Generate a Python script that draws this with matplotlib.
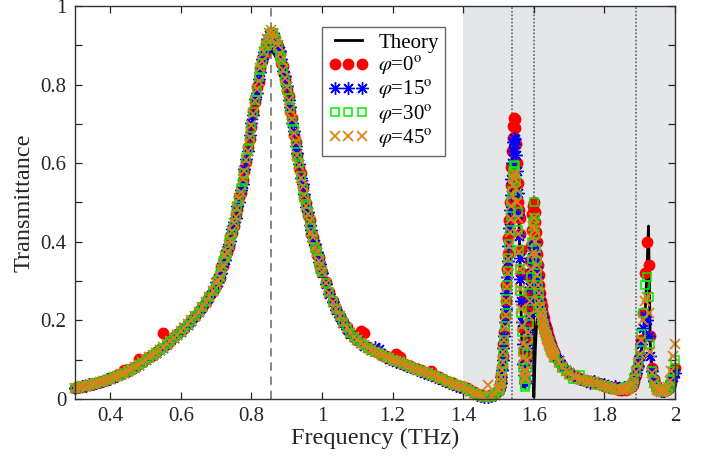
import numpy as np
import matplotlib
matplotlib.use('Agg')
import matplotlib.pyplot as plt
from matplotlib.ticker import MultipleLocator, FormatStrFormatter

plt.rcParams['font.family'] = 'Liberation Serif'
plt.rcParams['mathtext.fontset'] = 'stix'

# frequency grid (THz): finer sampling on the steep parts of the spectrum
freq = np.round(np.concatenate([
    np.arange(0.30, 0.695, 0.01),     # 40 pts
    np.arange(0.700, 0.9975, 0.005),  # 60 pts
    np.arange(1.00, 1.495, 0.01),     # 50 pts
    np.arange(1.500, 1.659, 0.002),   # 80 pts
    np.arange(1.66, 1.855, 0.01),     # 20 pts
    np.arange(1.855, 2.0025, 0.005),  # 30 pts
]), 3)

theory = [
    0.026, 0.028, 0.030, 0.032, 0.034, 0.036, 0.038, 0.041, 0.044, 0.047,
    0.050, 0.053, 0.057, 0.061, 0.065, 0.069, 0.074, 0.079, 0.085, 0.091,
    0.098, 0.104, 0.110, 0.116, 0.123, 0.130, 0.138, 0.146, 0.154, 0.162,
    0.170, 0.179, 0.188, 0.198, 0.209, 0.220, 0.232, 0.245, 0.258, 0.273,
    0.290, 0.299, 0.309, 0.324, 0.340, 0.355, 0.370, 0.386, 0.403, 0.421,
    0.440, 0.460, 0.480, 0.502, 0.525, 0.550, 0.575, 0.601, 0.628, 0.657,
    0.686, 0.714, 0.742, 0.768, 0.792, 0.815, 0.835, 0.852, 0.866, 0.876,
    0.882, 0.885, 0.883, 0.877, 0.868, 0.856, 0.841, 0.823, 0.802, 0.780,
    0.756, 0.731, 0.705, 0.678, 0.652, 0.625, 0.599, 0.573, 0.548, 0.524,
    0.501, 0.479, 0.458, 0.438, 0.419, 0.401, 0.383, 0.366, 0.350, 0.335,
    0.320, 0.293, 0.268, 0.246, 0.226, 0.208, 0.192, 0.178, 0.165, 0.156,
    0.148, 0.141, 0.135, 0.129, 0.123, 0.118, 0.114, 0.110, 0.106, 0.102,
    0.098, 0.094, 0.091, 0.087, 0.084, 0.080, 0.077, 0.073, 0.070, 0.066,
    0.063, 0.059, 0.056, 0.052, 0.048, 0.044, 0.040, 0.037, 0.033, 0.030,
    0.028, 0.024, 0.019, 0.014, 0.010, 0.006, 0.004, 0.005, 0.008, 0.014,
    0.020, 0.023, 0.028, 0.035, 0.045, 0.065, 0.090, 0.122, 0.160, 0.200,
    0.240, 0.280, 0.320, 0.365, 0.410, 0.455, 0.500, 0.540, 0.580, 0.615,
    0.650, 0.680, 0.705, 0.718, 0.712, 0.685, 0.640, 0.585, 0.520, 0.450,
    0.380, 0.300, 0.220, 0.150, 0.090, 0.050, 0.030, 0.035, 0.060, 0.095,
    0.140, 0.180, 0.220, 0.265, 0.310, 0.355, 0.400, 0.450, 0.490, 0.505,
    0.005, 0.060, 0.120, 0.160, 0.190, 0.205, 0.210, 0.212, 0.210, 0.208,
    0.205, 0.200, 0.195, 0.190, 0.185, 0.178, 0.172, 0.166, 0.160, 0.155,
    0.150, 0.145, 0.140, 0.135, 0.130, 0.125, 0.120, 0.116, 0.112, 0.108,
    0.104, 0.090, 0.079, 0.070, 0.062, 0.056, 0.051, 0.047, 0.044, 0.041,
    0.039, 0.037, 0.035, 0.033, 0.031, 0.029, 0.027, 0.025, 0.024, 0.023,
    0.022, 0.022, 0.022, 0.023, 0.025, 0.028, 0.034, 0.045, 0.065, 0.095,
    0.125, 0.150, 0.210, 0.310, 0.440, 0.140, 0.075, 0.050, 0.038, 0.030,
    0.025, 0.022, 0.020, 0.019, 0.020, 0.022, 0.026, 0.034, 0.050, 0.080,
]

t_phi0 = [
    0.027, 0.031, 0.031, 0.035, 0.036, 0.039, 0.041, 0.043, 0.047, 0.049,
    0.053, 0.055, 0.060, 0.063, 0.075, 0.070, 0.077, 0.082, 0.102, 0.094,
    0.101, 0.107, 0.111, 0.119, 0.126, 0.168, 0.141, 0.147, 0.157, 0.165,
    0.173, 0.180, 0.191, 0.201, 0.210, 0.223, 0.235, 0.246, 0.262, 0.274,
    0.288, 0.307, 0.309, 0.335, 0.339, 0.363, 0.375, 0.386, 0.415, 0.423,
    0.441, 0.471, 0.483, 0.515, 0.524, 0.558, 0.580, 0.602, 0.642, 0.662,
    0.692, 0.733, 0.755, 0.793, 0.807, 0.841, 0.861, 0.875, 0.904, 0.907,
    0.918, 0.930, 0.921, 0.922, 0.902, 0.898, 0.880, 0.856, 0.847, 0.813,
    0.787, 0.770, 0.734, 0.716, 0.673, 0.653, 0.622, 0.589, 0.574, 0.539,
    0.513, 0.499, 0.468, 0.456, 0.421, 0.411, 0.389, 0.366, 0.361, 0.335,
    0.324, 0.297, 0.272, 0.250, 0.230, 0.212, 0.196, 0.182, 0.168, 0.159,
    0.151, 0.172, 0.168, 0.132, 0.126, 0.121, 0.117, 0.113, 0.109, 0.105,
    0.102, 0.115, 0.108, 0.090, 0.087, 0.083, 0.080, 0.076, 0.073, 0.069,
    0.066, 0.072, 0.059, 0.055, 0.051, 0.047, 0.043, 0.040, 0.036, 0.033,
    0.030, 0.027, 0.022, 0.017, 0.013, 0.009, 0.007, 0.007, 0.009, 0.014,
    0.025, 0.028, 0.035, 0.045, 0.060, 0.082, 0.110, 0.140, 0.170, 0.210,
    0.250, 0.290, 0.330, 0.370, 0.410, 0.455, 0.500, 0.545, 0.590, 0.630,
    0.665, 0.695, 0.715, 0.712, 0.690, 0.650, 0.600, 0.550, 0.500, 0.480,
    0.460, 0.420, 0.380, 0.320, 0.250, 0.180, 0.120, 0.095, 0.090, 0.110,
    0.150, 0.190, 0.230, 0.270, 0.310, 0.350, 0.390, 0.430, 0.470, 0.490,
    0.500, 0.475, 0.450, 0.425, 0.400, 0.370, 0.340, 0.315, 0.290, 0.270,
    0.250, 0.237, 0.225, 0.215, 0.205, 0.197, 0.190, 0.182, 0.175, 0.168,
    0.162, 0.156, 0.150, 0.145, 0.140, 0.135, 0.130, 0.125, 0.120, 0.115,
    0.108, 0.095, 0.083, 0.073, 0.066, 0.060, 0.058, 0.052, 0.049, 0.047,
    0.045, 0.043, 0.040, 0.037, 0.034, 0.031, 0.028, 0.030, 0.024, 0.023,
    0.025, 0.024, 0.025, 0.027, 0.030, 0.035, 0.045, 0.060, 0.085, 0.110,
    0.150, 0.220, 0.320, 0.400, 0.340, 0.160, 0.080, 0.050, 0.035, 0.028,
    0.024, 0.022, 0.020, 0.020, 0.022, 0.025, 0.030, 0.040, 0.060, 0.080,
]

t_phi15 = [
    0.029, 0.030, 0.033, 0.034, 0.037, 0.038, 0.041, 0.044, 0.046, 0.050,
    0.052, 0.056, 0.059, 0.064, 0.067, 0.072, 0.076, 0.082, 0.086, 0.093,
    0.099, 0.106, 0.113, 0.118, 0.124, 0.131, 0.139, 0.149, 0.155, 0.163,
    0.171, 0.182, 0.189, 0.199, 0.212, 0.221, 0.233, 0.248, 0.259, 0.276,
    0.297, 0.297, 0.318, 0.321, 0.347, 0.353, 0.380, 0.394, 0.403, 0.432,
    0.450, 0.461, 0.492, 0.501, 0.532, 0.548, 0.585, 0.610, 0.630, 0.671,
    0.701, 0.723, 0.764, 0.779, 0.815, 0.831, 0.866, 0.883, 0.892, 0.916,
    0.927, 0.924, 0.932, 0.912, 0.910, 0.888, 0.885, 0.864, 0.835, 0.822,
    0.796, 0.760, 0.743, 0.702, 0.681, 0.643, 0.627, 0.597, 0.562, 0.548,
    0.522, 0.489, 0.477, 0.442, 0.429, 0.401, 0.394, 0.374, 0.349, 0.344,
    0.320, 0.293, 0.268, 0.246, 0.226, 0.208, 0.193, 0.178, 0.166, 0.157,
    0.149, 0.142, 0.136, 0.130, 0.124, 0.132, 0.126, 0.111, 0.107, 0.103,
    0.099, 0.095, 0.092, 0.088, 0.085, 0.081, 0.078, 0.074, 0.071, 0.067,
    0.064, 0.060, 0.057, 0.053, 0.049, 0.045, 0.041, 0.038, 0.034, 0.031,
    0.029, 0.025, 0.020, 0.015, 0.011, 0.007, 0.005, 0.005, 0.007, 0.011,
    0.022, 0.025, 0.030, 0.040, 0.055, 0.075, 0.100, 0.130, 0.160, 0.195,
    0.230, 0.270, 0.310, 0.350, 0.390, 0.435, 0.480, 0.520, 0.560, 0.600,
    0.630, 0.655, 0.665, 0.662, 0.650, 0.620, 0.580, 0.525, 0.470, 0.415,
    0.360, 0.305, 0.250, 0.195, 0.140, 0.090, 0.060, 0.045, 0.040, 0.060,
    0.090, 0.130, 0.170, 0.210, 0.250, 0.285, 0.320, 0.350, 0.380, 0.395,
    0.400, 0.380, 0.360, 0.335, 0.310, 0.290, 0.270, 0.255, 0.240, 0.230,
    0.220, 0.212, 0.205, 0.197, 0.190, 0.183, 0.176, 0.170, 0.164, 0.158,
    0.152, 0.147, 0.142, 0.137, 0.133, 0.128, 0.124, 0.120, 0.116, 0.112,
    0.112, 0.098, 0.085, 0.075, 0.068, 0.062, 0.056, 0.050, 0.052, 0.047,
    0.040, 0.046, 0.041, 0.037, 0.038, 0.033, 0.030, 0.034, 0.027, 0.025,
    0.030, 0.028, 0.030, 0.032, 0.035, 0.040, 0.050, 0.065, 0.085, 0.110,
    0.140, 0.180, 0.210, 0.200, 0.160, 0.110, 0.070, 0.045, 0.032, 0.026,
    0.022, 0.020, 0.020, 0.021, 0.024, 0.028, 0.035, 0.045, 0.055, 0.065,
]

t_phi30 = [
    0.028, 0.029, 0.032, 0.033, 0.036, 0.039, 0.040, 0.042, 0.046, 0.048,
    0.051, 0.055, 0.058, 0.062, 0.066, 0.071, 0.075, 0.080, 0.086, 0.092,
    0.099, 0.105, 0.111, 0.117, 0.124, 0.131, 0.139, 0.147, 0.155, 0.163,
    0.171, 0.180, 0.189, 0.199, 0.210, 0.221, 0.233, 0.246, 0.259, 0.274,
    0.286, 0.304, 0.316, 0.324, 0.352, 0.358, 0.369, 0.397, 0.409, 0.419,
    0.439, 0.468, 0.490, 0.504, 0.537, 0.553, 0.574, 0.613, 0.636, 0.658,
    0.690, 0.730, 0.762, 0.782, 0.820, 0.836, 0.855, 0.886, 0.898, 0.903,
    0.916, 0.931, 0.930, 0.915, 0.915, 0.893, 0.874, 0.867, 0.841, 0.809,
    0.785, 0.767, 0.741, 0.705, 0.686, 0.648, 0.616, 0.600, 0.568, 0.535,
    0.511, 0.496, 0.475, 0.445, 0.434, 0.406, 0.383, 0.377, 0.355, 0.331,
    0.323, 0.296, 0.271, 0.249, 0.229, 0.211, 0.195, 0.181, 0.168, 0.158,
    0.150, 0.143, 0.137, 0.131, 0.125, 0.120, 0.116, 0.112, 0.108, 0.104,
    0.100, 0.096, 0.093, 0.089, 0.086, 0.082, 0.079, 0.075, 0.072, 0.068,
    0.065, 0.061, 0.058, 0.054, 0.050, 0.046, 0.042, 0.039, 0.035, 0.032,
    0.030, 0.026, 0.021, 0.016, 0.012, 0.008, 0.006, 0.006, 0.008, 0.012,
    0.020, 0.023, 0.028, 0.038, 0.050, 0.070, 0.090, 0.120, 0.150, 0.185,
    0.220, 0.255, 0.290, 0.325, 0.360, 0.395, 0.430, 0.465, 0.500, 0.530,
    0.560, 0.580, 0.595, 0.592, 0.580, 0.555, 0.520, 0.475, 0.430, 0.380,
    0.330, 0.275, 0.220, 0.170, 0.120, 0.080, 0.050, 0.035, 0.030, 0.050,
    0.080, 0.115, 0.150, 0.190, 0.230, 0.270, 0.310, 0.355, 0.400, 0.450,
    0.500, 0.460, 0.420, 0.385, 0.350, 0.320, 0.290, 0.270, 0.250, 0.235,
    0.220, 0.210, 0.200, 0.192, 0.185, 0.178, 0.172, 0.166, 0.160, 0.155,
    0.150, 0.145, 0.140, 0.135, 0.131, 0.127, 0.123, 0.119, 0.115, 0.111,
    0.104, 0.092, 0.078, 0.075, 0.062, 0.050, 0.052, 0.060, 0.048, 0.046,
    0.044, 0.042, 0.036, 0.036, 0.033, 0.031, 0.027, 0.026, 0.024, 0.026,
    0.028, 0.030, 0.028, 0.030, 0.034, 0.040, 0.052, 0.070, 0.095, 0.125,
    0.165, 0.220, 0.290, 0.310, 0.260, 0.140, 0.070, 0.045, 0.032, 0.026,
    0.022, 0.020, 0.018, 0.020, 0.022, 0.026, 0.034, 0.048, 0.070, 0.100,
]

t_phi45 = [
    0.028, 0.030, 0.032, 0.034, 0.036, 0.038, 0.040, 0.043, 0.046, 0.049,
    0.052, 0.055, 0.059, 0.063, 0.067, 0.071, 0.076, 0.081, 0.087, 0.093,
    0.100, 0.106, 0.112, 0.118, 0.125, 0.132, 0.140, 0.148, 0.156, 0.164,
    0.172, 0.181, 0.190, 0.200, 0.211, 0.222, 0.234, 0.247, 0.260, 0.275,
    0.294, 0.299, 0.311, 0.331, 0.342, 0.365, 0.374, 0.393, 0.404, 0.427,
    0.447, 0.463, 0.485, 0.511, 0.527, 0.560, 0.579, 0.609, 0.631, 0.666,
    0.698, 0.725, 0.757, 0.789, 0.810, 0.843, 0.860, 0.882, 0.900, 0.915,
    0.930, 0.938, 0.932, 0.922, 0.905, 0.900, 0.879, 0.863, 0.836, 0.817,
    0.793, 0.762, 0.736, 0.712, 0.676, 0.655, 0.621, 0.596, 0.563, 0.543,
    0.519, 0.491, 0.470, 0.452, 0.424, 0.413, 0.388, 0.373, 0.350, 0.339,
    0.322, 0.295, 0.270, 0.248, 0.228, 0.210, 0.194, 0.180, 0.167, 0.158,
    0.150, 0.143, 0.137, 0.131, 0.125, 0.120, 0.116, 0.112, 0.108, 0.104,
    0.100, 0.096, 0.093, 0.089, 0.086, 0.082, 0.079, 0.075, 0.072, 0.068,
    0.065, 0.061, 0.058, 0.054, 0.050, 0.046, 0.042, 0.039, 0.035, 0.032,
    0.030, 0.026, 0.021, 0.016, 0.012, 0.008, 0.006, 0.035, 0.008, 0.012,
    0.022, 0.026, 0.032, 0.042, 0.055, 0.075, 0.095, 0.120, 0.150, 0.182,
    0.215, 0.250, 0.285, 0.320, 0.355, 0.390, 0.425, 0.458, 0.490, 0.520,
    0.545, 0.562, 0.575, 0.572, 0.560, 0.535, 0.500, 0.460, 0.420, 0.375,
    0.330, 0.280, 0.230, 0.185, 0.140, 0.105, 0.070, 0.055, 0.050, 0.070,
    0.100, 0.135, 0.170, 0.210, 0.250, 0.290, 0.330, 0.370, 0.410, 0.440,
    0.460, 0.430, 0.400, 0.370, 0.340, 0.315, 0.290, 0.270, 0.250, 0.235,
    0.220, 0.210, 0.200, 0.192, 0.185, 0.177, 0.170, 0.163, 0.158, 0.152,
    0.147, 0.142, 0.137, 0.132, 0.128, 0.124, 0.120, 0.116, 0.112, 0.108,
    0.106, 0.093, 0.082, 0.072, 0.065, 0.059, 0.055, 0.051, 0.048, 0.046,
    0.044, 0.042, 0.039, 0.036, 0.033, 0.030, 0.028, 0.026, 0.024, 0.023,
    0.024, 0.026, 0.025, 0.028, 0.032, 0.038, 0.050, 0.068, 0.090, 0.115,
    0.150, 0.200, 0.250, 0.260, 0.220, 0.120, 0.065, 0.040, 0.030, 0.024,
    0.020, 0.018, 0.018, 0.020, 0.024, 0.030, 0.045, 0.070, 0.110, 0.140,
]

resonance_center = 0.855
mode_lines = [1.537, 1.600, 1.889]
shade_start = 1.4

orange = '#d9841a'

fig = plt.figure(figsize=(7.02, 4.57), dpi=100)
ax = fig.add_axes([0.1068, 0.1269, 0.8547, 0.86])

ax.axvspan(shade_start, 2.0, color='#e5e6e8', lw=0, zorder=0)
ax.axvline(resonance_center, color='0.45', ls=(0, (5, 3.5)), lw=1.2, zorder=1)
for f in mode_lines:
    ax.axvline(f, color='0.45', ls=(0, (1, 1)), lw=1.3, zorder=1)

ax.plot(freq, theory, color='k', lw=2, label='Theory', zorder=2)
ax.plot(freq, t_phi0, ls='none', marker='o', ms=7.5, mfc='r', mec='r',
        label=r'$\varphi$=0$^{\mathrm{o}}$', clip_on=False, zorder=3)
ax.plot(freq, t_phi15, ls='none', marker=(8, 2, 0), ms=9, mec='b', mew=1.0,
        label=r'$\varphi$=15$^{\mathrm{o}}$', clip_on=False, zorder=3)
ax.plot(freq, t_phi30, ls='none', marker='s', ms=6, mfc='none', mec='#00ee00',
        mew=1.1, label=r'$\varphi$=30$^{\mathrm{o}}$', clip_on=False, zorder=3)
ax.plot(freq, t_phi45, ls='none', marker='x', ms=7.5, mec=orange, mew=1.3,
        label=r'$\varphi$=45$^{\mathrm{o}}$', clip_on=False, zorder=3)

ax.set_xlim(0.3, 2.0)
ax.set_ylim(0, 1)
ax.xaxis.set_major_locator(MultipleLocator(0.2))
ax.xaxis.set_major_formatter(FormatStrFormatter('%g'))
ax.yaxis.set_major_locator(MultipleLocator(0.2))
ax.yaxis.set_minor_locator(MultipleLocator(0.1))
ax.yaxis.set_major_formatter(FormatStrFormatter('%g'))
ax.tick_params(which='both', direction='in', top=True, right=True,
               length=5, width=0.9, colors='0.15', labelsize=15, pad=6)
for s in ax.spines.values():
    s.set_color('0.2')
    s.set_linewidth(1.0)
    s.set_zorder(4)

ax.set_xlabel('Frequency (THz)', fontsize=17.5, color='0.15', labelpad=1)
ax.set_ylabel('Transmittance', fontsize=17.5, color='0.15', labelpad=4)

leg = ax.legend(loc='upper left', bbox_to_anchor=(0.412, 0.947), numpoints=3,
                fontsize=15, frameon=True, fancybox=False, borderaxespad=0,
                handlelength=1.9, handletextpad=0.5, labelspacing=0.1,
                borderpad=0.3)
leg.get_frame().set_edgecolor('0.25')
leg.get_frame().set_linewidth(1.0)
leg.set_zorder(5)

fig.savefig('out.png', dpi=100)
